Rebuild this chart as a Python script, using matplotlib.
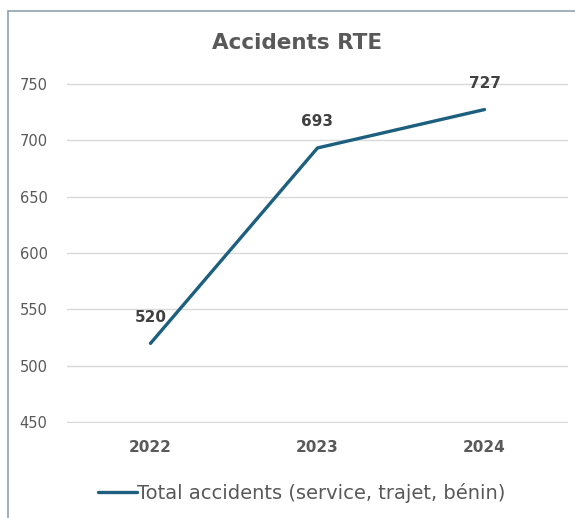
import matplotlib.pyplot as plt
from matplotlib.patches import Rectangle

# Data
years = ['2022', '2023', '2024']
accidents = [520, 693, 727]
series_label = 'Total accidents (service, trajet, bénin)'
y_ticks = [450, 500, 550, 600, 650, 700, 750]

line_color = '#1d5f7e'
text_color = '#595959'

plt.rcParams['font.family'] = ['DejaVu Sans']

fig = plt.figure(figsize=(5.75, 5.18), dpi=100)
ax = fig.add_axes([67 / 575, 95 / 518, 501 / 575, 340 / 518])

x = list(range(len(years)))
ax.plot(x, accidents, color=line_color, linewidth=2.4, label=series_label,
        solid_capstyle='round', solid_joinstyle='round')

# Data labels
for xi, v in zip(x, accidents):
    ax.annotate(str(v), (xi, v), xytext=(0, 13.5), textcoords='offset points',
                ha='center', va='bottom', fontsize=11, fontweight='bold',
                color='#404040')

ax.set_xlim(-0.5, 2.5)
ax.set_ylim(449.5, 750.5)
ax.set_yticks(y_ticks)
ax.set_xticks(x)
ax.set_xticklabels(years, fontsize=11, fontweight='bold', color=text_color)
ax.tick_params(axis='y', labelsize=10.5, labelcolor=text_color, length=0, pad=14)
ax.tick_params(axis='x', length=0, pad=12)
ax.grid(axis='y', color='#d9d9d9', linewidth=1)
ax.set_axisbelow(True)
for s in ax.spines.values():
    s.set_visible(False)

fig.text(297 / 575, 1 - 43 / 518, 'Accidents RTE', ha='center', va='center',
         fontsize=15.5, fontweight='bold', color=text_color)

ax.legend(loc='center', bbox_to_anchor=(302 / 575, 25 / 518),
          bbox_transform=fig.transFigure, frameon=False, fontsize=14,
          handlelength=2.0, handletextpad=0.0, labelcolor=text_color)

# Chart border
fig.patches.append(Rectangle((8 / 575, -0.1), 1.0, 1 - 11 / 518 + 0.1,
                             transform=fig.transFigure, fill=False,
                             edgecolor='#8fa3b0', linewidth=1.2))

plt.savefig('out.png', dpi=100)
